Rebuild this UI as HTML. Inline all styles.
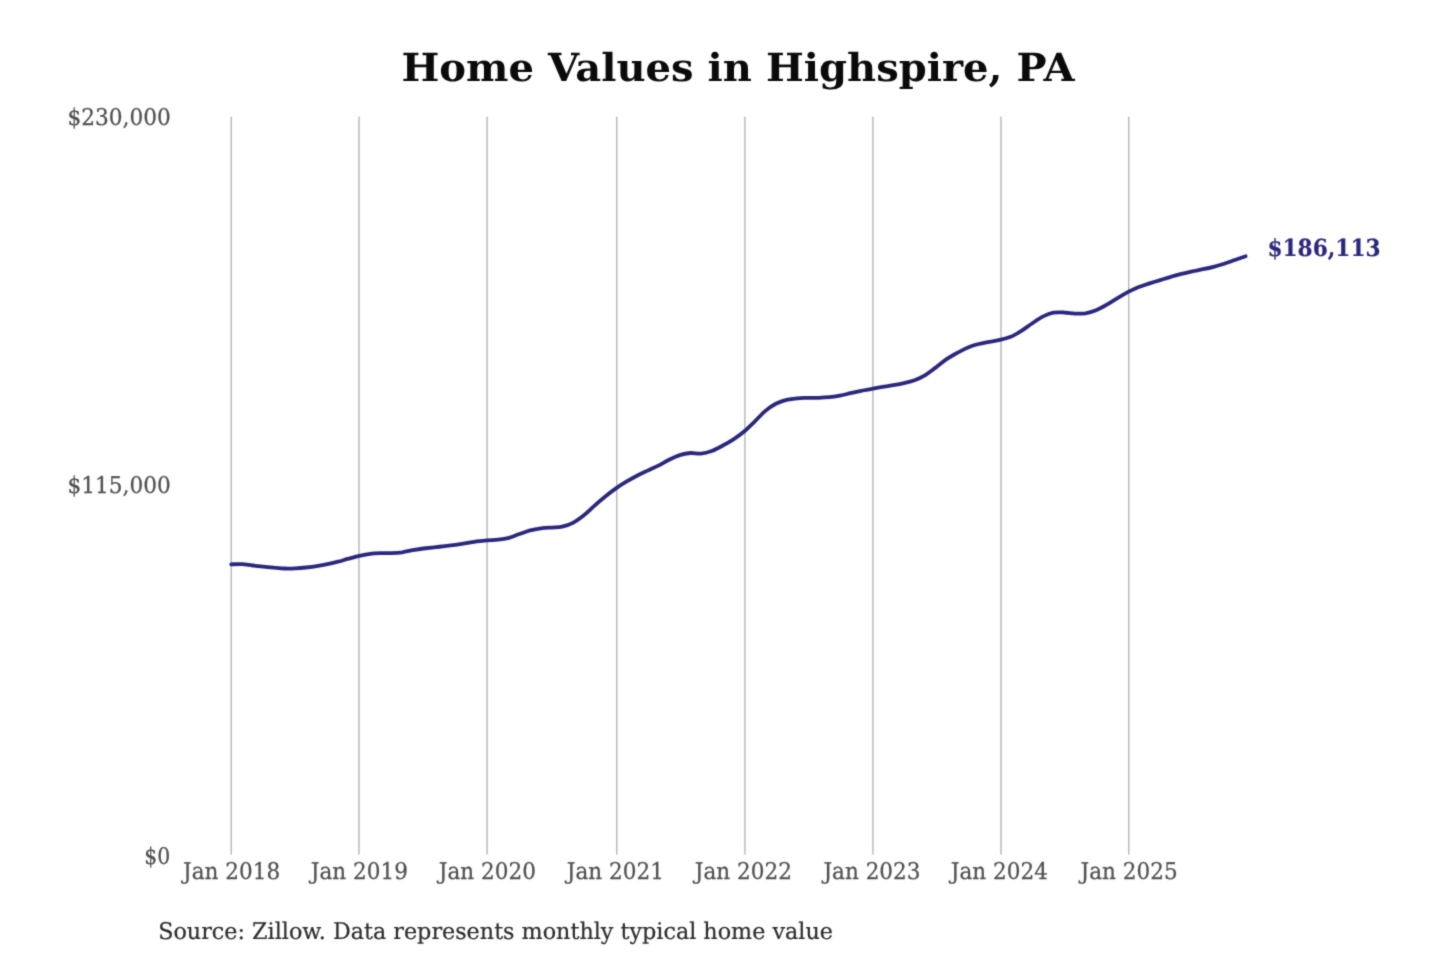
<!DOCTYPE html>
<html lang="en"><head><meta charset="utf-8"><title>Home Values in Highspire, PA</title>
<style>
html,body{margin:0;padding:0;background:#fff;}
body{width:1440px;height:960px;overflow:hidden;font-family:"DejaVu Serif","Liberation Serif",serif;}
svg{display:block;}
text{font-family:"DejaVu Serif","Liberation Serif",serif;text-rendering:geometricPrecision;}
.title{font-size:40px;font-weight:bold;fill:#0a0a0a;text-anchor:middle;}
.tick{font-size:22px;fill:#505050;stroke:#505050;stroke-width:0.25px;}
.yt text{text-anchor:end;}
.xt text{text-anchor:middle;}
.src{font-size:22.27px;fill:#2c2c2c;stroke:#2c2c2c;stroke-width:0.2px;}
.end{font-size:21.7px;font-weight:bold;fill:#2b277e;stroke:#2b277e;stroke-width:0.15px;}
.grid line{stroke:#a4a4a4;stroke-width:1.15;}
</style></head>
<body>
<svg width="1440" height="960" viewBox="0 0 1440 960">
<defs><filter id="soft" x="0" y="0" width="100%" height="100%" filterUnits="userSpaceOnUse" color-interpolation-filters="sRGB"><feConvolveMatrix order="3" kernelMatrix="0.5 1.5 0.5 1.5 8 1.5 0.5 1.5 0.5" edgeMode="duplicate" preserveAlpha="false"/></filter></defs>
<g filter="url(#soft)">
<rect width="1440" height="960" fill="#fff"/>
<text class="title" transform="translate(738.10 81.20) scale(1.0016 0.9650)">Home Values in Highspire, PA</text>
<g class="grid"><line x1="231.2" y1="116.5" x2="231.2" y2="854.5"/><line x1="359.0" y1="116.5" x2="359.0" y2="854.5"/><line x1="487.1" y1="116.5" x2="487.1" y2="854.5"/><line x1="616.8" y1="116.5" x2="616.8" y2="854.5"/><line x1="744.9" y1="116.5" x2="744.9" y2="854.5"/><line x1="872.9" y1="116.5" x2="872.9" y2="854.5"/><line x1="1001.0" y1="116.5" x2="1001.0" y2="854.5"/><line x1="1128.8" y1="116.5" x2="1128.8" y2="854.5"/></g>
<g class="tick yt">
<text transform="translate(170.80 125.00) scale(0.9850 1.0450)">$230,000</text>
<text transform="translate(170.80 493.00) scale(0.9850 1.0450)">$115,000</text>
<text transform="translate(170.20 864.00) scale(0.9300 1.0450)">$0</text>
</g>
<g class="tick xt">
<text transform="translate(231.55 879.40) scale(0.9800 1.0450)">Jan 2018</text>
<text transform="translate(359.30 879.40) scale(0.9800 1.0450)">Jan 2019</text>
<text transform="translate(487.40 879.40) scale(0.9800 1.0450)">Jan 2020</text>
<text transform="translate(615.30 879.40) scale(0.9800 1.0450)">Jan 2021</text>
<text transform="translate(743.30 879.40) scale(0.9800 1.0450)">Jan 2022</text>
<text transform="translate(871.95 879.40) scale(0.9800 1.0450)">Jan 2023</text>
<text transform="translate(999.40 879.40) scale(0.9800 1.0450)">Jan 2024</text>
<text transform="translate(1129.05 879.40) scale(0.9800 1.0450)">Jan 2025</text>
</g>
<path d="M231.2 564.3C233.0 564.3 238.4 564.0 241.9 564.2C245.5 564.4 249.0 565.1 252.6 565.5C256.2 565.9 259.7 566.2 263.3 566.6C266.8 566.9 270.4 567.3 274.0 567.7C277.5 568.0 281.1 568.4 284.6 568.5C288.2 568.7 291.8 568.6 295.3 568.4C298.9 568.2 302.4 567.9 306.0 567.5C309.6 567.1 313.1 566.7 316.7 566.1C320.2 565.6 323.8 565.0 327.4 564.2C330.9 563.5 334.5 562.6 338.0 561.7C341.6 560.8 345.1 559.6 348.7 558.7C352.3 557.7 355.8 556.6 359.4 555.8C362.9 555.0 366.5 554.2 370.1 553.8C373.6 553.4 377.2 553.3 380.7 553.2C384.3 553.0 387.9 553.2 391.4 553.1C395.0 552.9 398.5 552.7 402.1 552.3C405.6 551.8 409.2 550.9 412.8 550.2C416.3 549.6 419.9 549.0 423.4 548.5C427.0 548.1 430.6 547.7 434.1 547.3C437.7 546.9 441.2 546.6 444.8 546.2C448.4 545.8 451.9 545.4 455.5 544.9C459.0 544.4 462.6 543.8 466.1 543.2C469.7 542.6 473.3 541.8 476.8 541.3C480.4 540.8 484.0 540.6 487.5 540.3C491.1 540.0 494.6 540.1 498.2 539.7C501.7 539.3 505.3 538.8 508.9 537.8C512.4 536.9 516.0 535.2 519.5 534.0C523.1 532.8 526.7 531.3 530.2 530.4C533.8 529.5 537.3 528.9 540.9 528.4C544.4 527.9 548.0 527.8 551.6 527.6C555.1 527.3 558.7 527.5 562.2 526.7C565.8 525.9 569.4 524.8 572.9 522.9C576.5 521.0 580.0 518.3 583.6 515.5C587.2 512.6 590.7 509.0 594.3 505.9C597.8 502.7 601.4 499.6 605.0 496.7C608.5 493.8 612.1 491.1 615.6 488.6C619.2 486.1 622.8 483.8 626.3 481.7C629.9 479.5 633.4 477.6 637.0 475.7C640.5 473.9 644.1 472.3 647.7 470.6C651.2 468.9 654.8 467.4 658.3 465.6C661.9 463.8 665.5 461.5 669.0 459.8C672.6 458.0 676.1 456.2 679.7 455.1C683.3 454.0 686.8 453.3 690.4 453.0C693.9 452.8 697.5 453.9 701.0 453.6C704.6 453.3 708.2 452.3 711.7 451.0C715.3 449.7 718.8 447.7 722.4 445.8C726.0 443.9 729.5 441.9 733.1 439.6C736.6 437.3 740.2 434.8 743.8 431.8C747.3 428.9 750.9 425.2 754.4 421.8C758.0 418.3 761.6 414.1 765.1 411.1C768.7 408.1 772.2 405.7 775.8 403.8C779.4 402.0 782.9 400.8 786.5 399.9C790.0 399.0 793.6 398.6 797.1 398.3C800.7 398.0 804.3 398.0 807.8 397.9C811.4 397.9 815.0 397.9 818.5 397.8C822.1 397.7 825.6 397.6 829.2 397.2C832.7 396.9 836.3 396.3 839.9 395.6C843.4 395.0 847.0 394.0 850.5 393.2C854.1 392.4 857.7 391.6 861.2 390.8C864.8 390.1 868.3 389.4 871.9 388.8C875.5 388.1 879.0 387.5 882.6 386.9C886.1 386.3 889.7 385.8 893.2 385.1C896.8 384.5 900.4 383.9 903.9 383.1C907.5 382.3 911.0 381.5 914.6 380.2C918.2 378.9 921.7 377.3 925.3 375.1C928.8 373.0 932.4 370.0 936.0 367.4C939.5 364.7 943.1 361.5 946.6 359.1C950.2 356.7 953.8 354.8 957.3 352.8C960.9 350.9 964.4 348.9 968.0 347.4C971.5 346.0 975.1 344.9 978.7 344.0C982.2 343.1 985.8 342.5 989.3 341.8C992.9 341.1 996.5 340.7 1000.0 339.9C1003.6 339.1 1007.1 338.3 1010.7 336.8C1014.3 335.3 1017.8 333.1 1021.4 330.9C1024.9 328.7 1028.5 325.8 1032.0 323.5C1035.6 321.1 1039.2 318.4 1042.7 316.6C1046.3 314.9 1049.9 313.4 1053.4 312.7C1057.0 312.0 1060.5 312.3 1064.1 312.5C1067.6 312.6 1071.2 313.4 1074.8 313.6C1078.3 313.7 1081.9 313.9 1085.4 313.4C1089.0 312.8 1092.6 311.7 1096.1 310.3C1099.7 308.8 1103.2 306.8 1106.8 304.7C1110.3 302.7 1113.9 300.3 1117.5 298.1C1121.0 296.0 1124.6 293.8 1128.2 291.9C1131.7 290.1 1135.3 288.4 1138.8 287.0C1142.4 285.6 1145.9 284.6 1149.5 283.4C1153.1 282.3 1156.6 281.2 1160.2 280.1C1163.7 279.0 1167.3 277.8 1170.9 276.8C1174.4 275.7 1178.0 274.8 1181.5 273.9C1185.1 273.0 1188.7 272.2 1192.2 271.4C1195.8 270.6 1199.3 270.0 1202.9 269.2C1206.5 268.5 1210.0 267.8 1213.6 266.8C1217.1 265.9 1220.7 264.8 1224.2 263.7C1227.8 262.5 1231.4 261.2 1234.9 260.0C1238.5 258.8 1243.8 256.9 1245.6 256.3" fill="none" stroke="#2b277e" stroke-width="3.8" stroke-linecap="round" stroke-linejoin="round"/>
<text class="end" transform="translate(1267.40 255.90) scale(1.0000 1.0800)">$186,113</text>
<text class="src" transform="translate(158.20 939.30) scale(1.0000 1.0300)">Source: Zillow. Data represents monthly typical home value</text>
</g>
</svg>
</body></html>
